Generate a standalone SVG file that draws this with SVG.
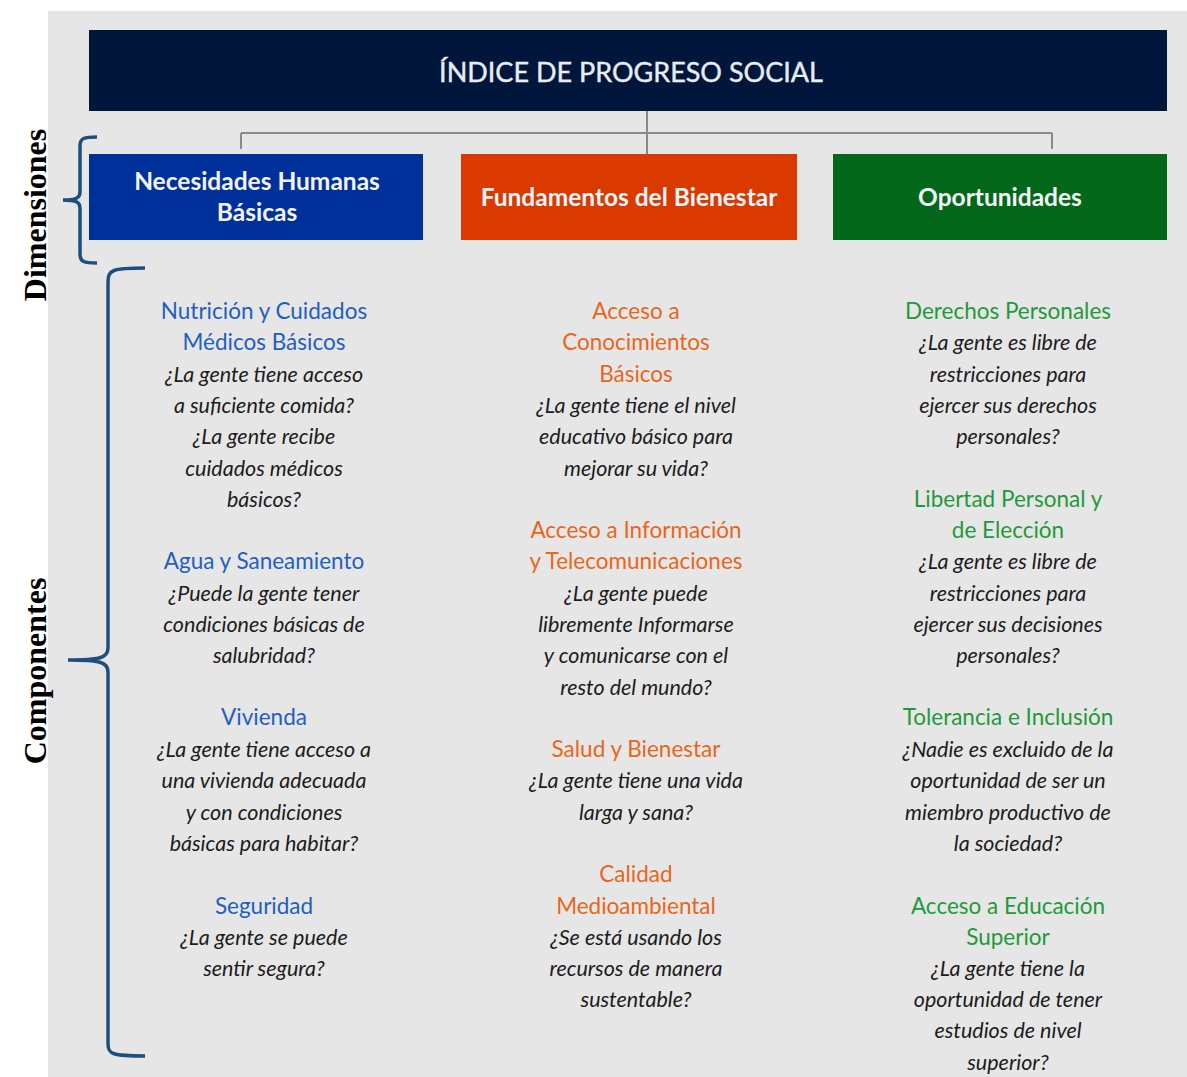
<svg xmlns="http://www.w3.org/2000/svg" width="1187" height="1077" viewBox="0 0 1187 1077">
<style>
.dim{fill:#f4f4f8;font-family:Lato,"Open Sans",sans-serif;font-weight:bold;font-size:24.5px;text-anchor:middle}
.hdr{fill:#e8ecf4;font-family:Lato,"Open Sans",sans-serif;font-size:27px;text-anchor:middle;stroke:#e8ecf4;stroke-width:0.4}
.col{font-family:Lato,"Open Sans",sans-serif;font-size:21.5px;text-anchor:middle}
.t{font-style:normal;font-size:22.5px}
.q{fill:#1c1c1c;font-style:italic}
.b{fill:#1f5fc0}.o{fill:#e8661a}.g{fill:#1f9a3a}
.side{font-family:"Liberation Serif",serif;font-weight:bold;font-size:32px;text-anchor:middle;fill:#000}
.brace{fill:none;stroke:#1d4f7e;stroke-width:3.5}
.conn{fill:none;stroke:#8a8a8a;stroke-width:2}
</style>
<rect x="0" y="0" width="1187" height="1077" fill="#ffffff"/>
<rect x="48" y="11" width="1139" height="1066" fill="#e6e6e6"/>
<g id="connectors">
<path class="conn" d="M241 133 H1052" stroke="#aaaaaa" stroke-width="3"/>
<path class="conn" d="M647 111 V155 M241 133 V149 M1052 133 V149"/>
</g>
<g id="header">
<rect x="89" y="30" width="1078" height="81" fill="#00163a"/>
<text class="hdr" x="631" y="82">ÍNDICE DE PROGRESO SOCIAL</text>
</g>
<g id="dim-necesidades">
<rect x="89" y="154" width="334" height="86" fill="#00309a"/>
<text class="dim" x="257" y="190">Necesidades Humanas</text>
<text class="dim" x="257" y="221">Básicas</text>
</g>
<g id="dim-fundamentos">
<rect x="461" y="154" width="336" height="86" fill="#da3a00"/>
<text class="dim" x="629" y="206">Fundamentos del Bienestar</text>
</g>
<g id="dim-oportunidades">
<rect x="833" y="154" width="334" height="86" fill="#03681a"/>
<text class="dim" x="1000" y="206">Oportunidades</text>
</g>
<g id="brace-dimensiones">
<path class="brace" d="M97 137 C84 137 80 138 80 146 V192 C80 198 76 200 63 200 C76 200 80 202 80 208 V254 C80 262 84 263 97 263"/>
<text class="side" transform="translate(46 215) rotate(-90)">Dimensiones</text>
</g>
<g id="brace-componentes">
<path class="brace" d="M145 268 C112 268 108 270 108 282 V648 C108 658 100 660 68 660 C100 660 108 662 108 672 V1044 C108 1054 112 1056 145 1056"/>
<text class="side" transform="translate(46 671) rotate(-90)">Componentes</text>
</g>
<g id="col-necesidades" class="col">
<text class="t b" x="264" y="319">Nutrición y Cuidados</text>
<text class="t b" x="264" y="350">Médicos Básicos</text>
<text class="q" x="264" y="382">¿La gente tiene acceso</text>
<text class="q" x="264" y="413">a suficiente comida?</text>
<text class="q" x="264" y="444">¿La gente recibe</text>
<text class="q" x="264" y="476">cuidados médicos</text>
<text class="q" x="264" y="507">básicos?</text>
<text class="t b" x="264" y="569">Agua y Saneamiento</text>
<text class="q" x="264" y="601">¿Puede la gente tener</text>
<text class="q" x="264" y="632">condiciones básicas de</text>
<text class="q" x="264" y="663">salubridad?</text>
<text class="t b" x="264" y="725">Vivienda</text>
<text class="q" x="264" y="757">¿La gente tiene acceso a</text>
<text class="q" x="264" y="788">una vivienda adecuada</text>
<text class="q" x="264" y="820">y con condiciones</text>
<text class="q" x="264" y="851">básicas para habitar?</text>
<text class="t b" x="264" y="914">Seguridad</text>
<text class="q" x="264" y="945">¿La gente se puede</text>
<text class="q" x="264" y="976">sentir segura?</text>
</g>
<g id="col-fundamentos" class="col">
<text class="t o" x="636" y="319">Acceso a</text>
<text class="t o" x="636" y="350">Conocimientos</text>
<text class="t o" x="636" y="382">Básicos</text>
<text class="q" x="636" y="413">¿La gente tiene el nivel</text>
<text class="q" x="636" y="444">educativo básico para</text>
<text class="q" x="636" y="476">mejorar su vida?</text>
<text class="t o" x="636" y="538">Acceso a Información</text>
<text class="t o" x="636" y="569">y Telecomunicaciones</text>
<text class="q" x="636" y="601">¿La gente puede</text>
<text class="q" x="636" y="632">libremente Informarse</text>
<text class="q" x="636" y="663">y comunicarse con el</text>
<text class="q" x="636" y="695">resto del mundo?</text>
<text class="t o" x="636" y="757">Salud y Bienestar</text>
<text class="q" x="636" y="788">¿La gente tiene una vida</text>
<text class="q" x="636" y="820">larga y sana?</text>
<text class="t o" x="636" y="882">Calidad</text>
<text class="t o" x="636" y="914">Medioambiental</text>
<text class="q" x="636" y="945">¿Se está usando los</text>
<text class="q" x="636" y="976">recursos de manera</text>
<text class="q" x="636" y="1007">sustentable?</text>
</g>
<g id="col-oportunidades" class="col">
<text class="t g" x="1008" y="319">Derechos Personales</text>
<text class="q" x="1008" y="350">¿La gente es libre de</text>
<text class="q" x="1008" y="382">restricciones para</text>
<text class="q" x="1008" y="413">ejercer sus derechos</text>
<text class="q" x="1008" y="444">personales?</text>
<text class="t g" x="1008" y="507">Libertad Personal y</text>
<text class="t g" x="1008" y="538">de Elección</text>
<text class="q" x="1008" y="569">¿La gente es libre de</text>
<text class="q" x="1008" y="601">restricciones para</text>
<text class="q" x="1008" y="632">ejercer sus decisiones</text>
<text class="q" x="1008" y="663">personales?</text>
<text class="t g" x="1008" y="725">Tolerancia e Inclusión</text>
<text class="q" x="1008" y="757">¿Nadie es excluido de la</text>
<text class="q" x="1008" y="788">oportunidad de ser un</text>
<text class="q" x="1008" y="820">miembro productivo de</text>
<text class="q" x="1008" y="851">la sociedad?</text>
<text class="t g" x="1008" y="914">Acceso a Educación</text>
<text class="t g" x="1008" y="945">Superior</text>
<text class="q" x="1008" y="976">¿La gente tiene la</text>
<text class="q" x="1008" y="1007">oportunidad de tener</text>
<text class="q" x="1008" y="1038">estudios de nivel</text>
<text class="q" x="1008" y="1070">superior?</text>
</g>
</svg>
